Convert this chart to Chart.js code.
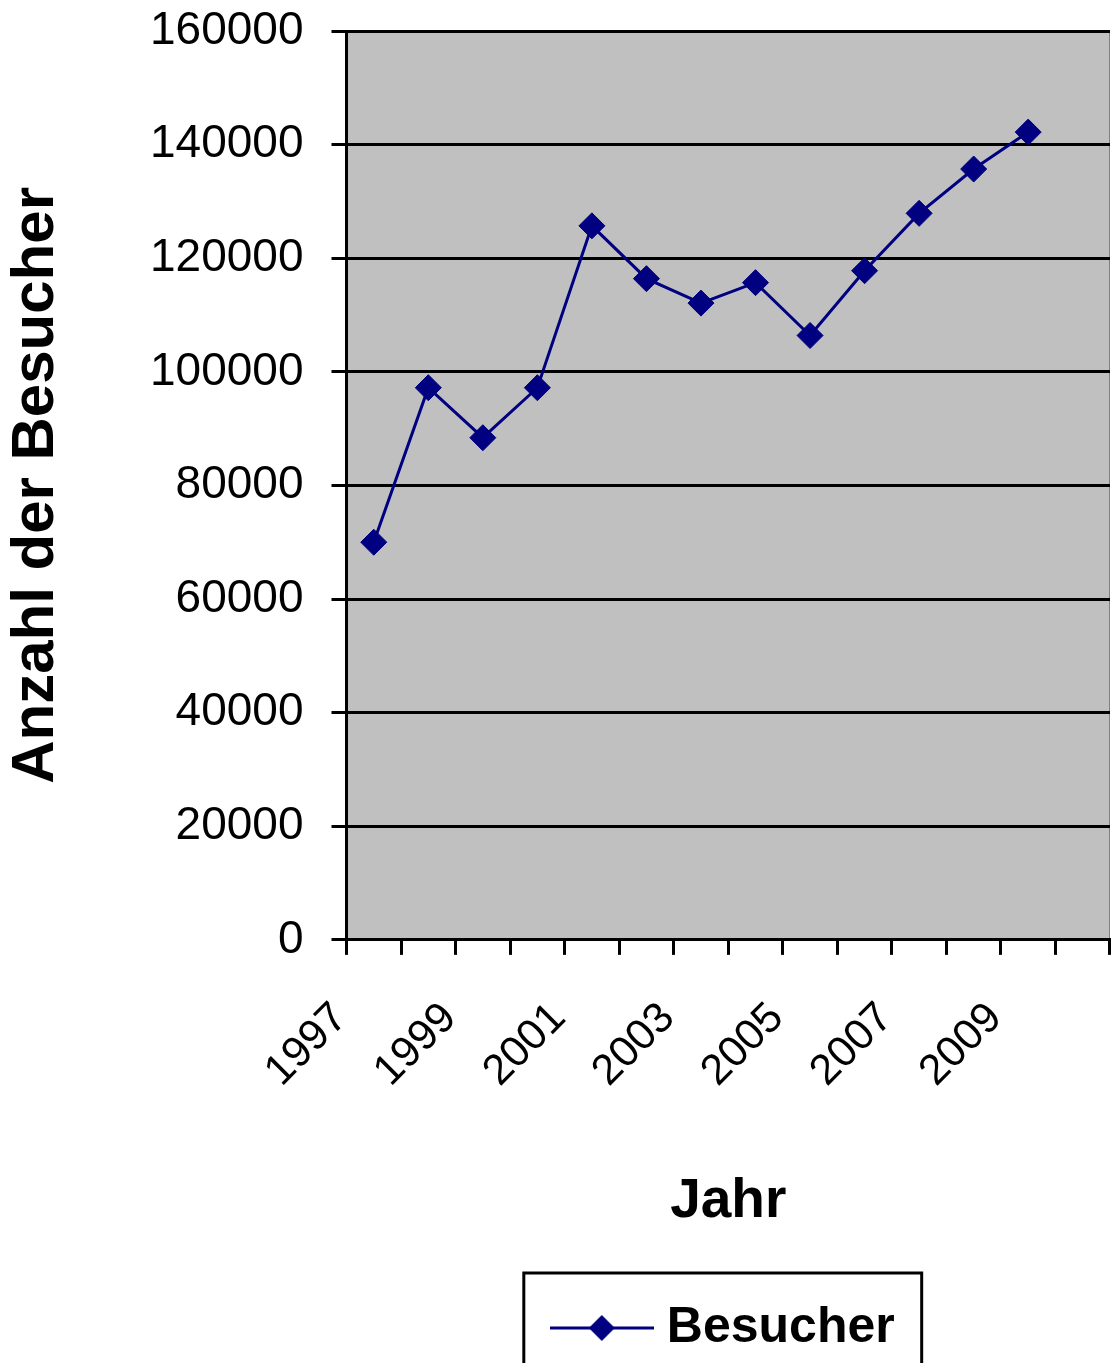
<!DOCTYPE html>
<html>
<head>
<meta charset="utf-8">
<script src="https://cdn.jsdelivr.net/npm/chart.js@4/dist/chart.umd.min.js"></script>
<style>
html,body{margin:0;padding:0;background:#ffffff;}
canvas{display:block;}
</style>
</head>
<body>
<canvas id="c" width="1111" height="1363"></canvas>
<script>
// ---- data ----
const years = ['1997','1998','1999','2000','2001','2002','2003','2004','2005','2006','2007','2008','2009','2010'];
const besucher = [70000, 97200, 88400, 97200, 125700, 116400, 112100, 115700, 106400, 117800, 127900, 135700, 142200];
const seriesName = 'Besucher';
const xTitle = 'Jahr';
const yTitle = 'Anzahl der Besucher';
const yMin = 0, yMax = 160000, yStep = 20000;

// ---- styles ----
const NAVY = '#000080';
const FONT = "'Liberation Sans', Arial, Helvetica, sans-serif";
Chart.defaults.font.family = FONT;
Chart.defaults.color = '#000000';

// legend sample: line with diamond
const sample = document.createElement('canvas');
sample.width = 104; sample.height = 30;
(function(){
  const g = sample.getContext('2d');
  g.strokeStyle = NAVY; g.lineWidth = 3;
  g.beginPath(); g.moveTo(0, 15); g.lineTo(104, 15); g.stroke();
  g.fillStyle = NAVY;
  g.beginPath(); g.moveTo(52, 2); g.lineTo(65, 15); g.lineTo(52, 28); g.lineTo(39, 15); g.closePath(); g.fill();
})();

const plotBg = {
  id: 'plotBg',
  beforeDraw(chart) {
    const {ctx, chartArea: a} = chart;
    ctx.save();
    ctx.fillStyle = '#C0C0C0';
    ctx.fillRect(a.left, a.top, a.right - a.left, a.bottom - a.top);
    ctx.strokeStyle = '#808080'; ctx.lineWidth = 1;
    ctx.beginPath(); ctx.moveTo(a.right - 0.5, a.top); ctx.lineTo(a.right - 0.5, a.bottom); ctx.stroke();
    ctx.restore();
  }
};

const legendBox = {
  id: 'legendBox',
  afterDraw(chart) {
    const lg = chart.legend;
    if (!lg || !lg.legendHitBoxes || !lg.legendHitBoxes.length) return;
    const hb = lg.legendHitBoxes[0];
    const ctx = chart.ctx;
    ctx.save();
    ctx.strokeStyle = '#000000'; ctx.lineWidth = 3;
    const l = hb.left - 38, r = hb.left + hb.width + 27, t = hb.top - 30, b = hb.top + hb.height + 60;
    ctx.strokeRect(l, t, r - l, b - t);
    ctx.restore();
  }
};

new Chart(document.getElementById('c'), {
  type: 'line',
  data: {
    labels: years,
    datasets: [{
      label: seriesName,
      data: besucher,
      borderColor: NAVY,
      backgroundColor: NAVY,
      borderWidth: 3,
      tension: 0,
      pointStyle: 'rectRot',
      pointRadius: 13,
      pointHoverRadius: 13,
      pointBackgroundColor: NAVY,
      pointBorderColor: NAVY,
      pointBorderWidth: 1,
      fill: false
    }]
  },
  options: {
    responsive: false,
    devicePixelRatio: 1,
    animation: false,
    layout: { autoPadding: false, padding: { top: 31, right: 1, left: 0, bottom: 0 } },
    plugins: {
      tooltip: { enabled: false },
      legend: {
        display: true,
        position: 'bottom',
        fullSize: false,
        labels: {
          usePointStyle: true,
          pointStyle: sample,
          pointStyleWidth: 80,
          padding: 11,
          color: '#000000',
          font: { size: 50, weight: 'bold', family: FONT }
        }
      }
    },
    scales: {
      x: {
        type: 'category',
        offset: true,
        afterFit(scale) { scale.paddingRight = 0; scale.paddingLeft = 0; },
        grid: {
          offset: true,
          drawOnChartArea: false,
          drawTicks: true,
          tickLength: 15,
          color: '#000000',
          lineWidth: 3
        },
        border: { display: true, color: '#000000', width: 3 },
        ticks: {
          autoSkip: false,
          minRotation: 45,
          maxRotation: 45,
          padding: 38,
          labelOffset: -33,
          color: '#000000',
          font: { size: 43, family: FONT },
          callback: function(v, i) { return i % 2 === 0 ? years[i] : ''; }
        },
        title: {
          display: true,
          text: xTitle,
          color: '#000000',
          font: { size: 55, weight: 'bold', family: FONT },
          padding: { top: 34, bottom: 57 }
        }
      },
      y: {
        min: yMin,
        max: yMax,
        afterFit(scale) { scale.paddingTop = 0; scale.paddingBottom = 0; },
        grid: {
          color: '#000000',
          lineWidth: 3,
          drawTicks: true,
          tickLength: 15
        },
        border: { display: true, color: '#000000', width: 3 },
        ticks: {
          stepSize: yStep,
          padding: 28,
          color: '#000000',
          font: { size: 46, family: FONT },
          callback: function(v) { return String(v); }
        },
        title: {
          display: true,
          text: yTitle,
          color: '#000000',
          font: { size: 60, weight: 'bold', family: FONT },
          padding: { top: 0, bottom: 50 }
        }
      }
    }
  },
  plugins: [plotBg, legendBox]
});
</script>
</body>
</html>
